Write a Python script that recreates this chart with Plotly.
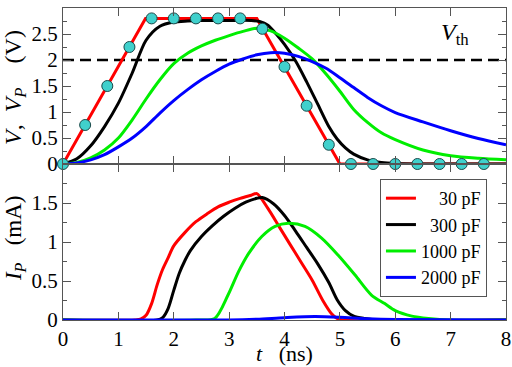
import plotly.graph_objects as go
from plotly.subplots import make_subplots

# ---- data ----
legend_labels = ["30 pF", "300 pF", "1000 pF", "2000 pF"]
colors = ["#ff0000", "#000000", "#00ee00", "#0000ff"]

# top panel: V, V_P (V)
t_v_30 = [0, 1.49, 3.5, 5.0, 8.0]
v_30 = [0, 2.8, 2.8, 0, 0]

t_v_300 = [0, 0.25, 0.5, 0.75, 1.0, 1.25, 1.5, 1.75, 2.0, 2.25, 2.5, 3.0, 3.4, 3.55, 3.7, 3.85, 4.0, 4.2, 4.4, 4.6, 4.8, 4.95, 5.1, 5.25, 5.5, 5.75, 6.0, 6.5, 8.0]
v_300 = [0, 0.1, 0.35, 0.72, 1.17, 1.75, 2.38, 2.65, 2.73, 2.75, 2.76, 2.76, 2.76, 2.74, 2.67, 2.5, 2.3, 1.98, 1.58, 1.15, 0.72, 0.48, 0.31, 0.19, 0.08, 0.03, 0.01, 0, 0]

t_v_1000 = [0, 0.25, 0.5, 0.75, 1.0, 1.25, 1.5, 1.75, 2.0, 2.25, 2.5, 2.75, 3.0, 3.25, 3.5, 3.75, 4.0, 4.25, 4.5, 4.75, 5.0, 5.25, 5.5, 5.75, 6.0, 6.5, 7.0, 7.5, 8.0]
v_1000 = [0, 0.03, 0.12, 0.27, 0.5, 0.85, 1.25, 1.62, 1.93, 2.13, 2.27, 2.38, 2.47, 2.55, 2.61, 2.56, 2.42, 2.23, 2.02, 1.73, 1.4, 1.05, 0.8, 0.6, 0.47, 0.27, 0.16, 0.11, 0.08]

t_v_2000 = [0, 0.25, 0.5, 0.75, 1.0, 1.25, 1.5, 1.75, 2.0, 2.25, 2.5, 2.75, 3.0, 3.25, 3.5, 3.75, 4.0, 4.25, 4.5, 4.75, 5.0, 5.25, 5.5, 5.75, 6.0, 6.5, 7.0, 7.5, 8.0]
v_2000 = [0, 0.02, 0.08, 0.18, 0.33, 0.5, 0.72, 0.98, 1.22, 1.43, 1.62, 1.78, 1.92, 2.02, 2.1, 2.14, 2.13, 2.07, 1.97, 1.84, 1.66, 1.47, 1.28, 1.12, 0.99, 0.81, 0.64, 0.49, 0.37]

# circles (V)
t_marks = [0, 0.4, 0.8, 1.2, 1.6, 2.0, 2.4, 2.8, 3.2, 3.6, 4.0, 4.4, 4.8, 5.2, 5.6, 6.0, 6.4, 6.8, 7.2, 7.6]
v_marks = [0, 0.75, 1.5, 2.25, 2.8, 2.8, 2.8, 2.8, 2.8, 2.6, 1.87, 1.12, 0.37, 0, 0, 0, 0, 0, 0, 0]

V_TH = 2.0

# bottom panel: I_P (mA)
t_i_30 = [0, 1.3, 1.4, 1.5, 1.6, 1.7, 1.8, 1.9, 2.0, 2.2, 2.4, 2.6, 2.8, 3.0, 3.2, 3.4, 3.5, 3.7, 3.9, 4.1, 4.3, 4.5, 4.7, 4.85, 4.95, 5.05, 8.0]
i_30 = [0, 0, 0.01, 0.06, 0.21, 0.45, 0.65, 0.8, 0.95, 1.12, 1.26, 1.36, 1.45, 1.51, 1.56, 1.6, 1.62, 1.43, 1.2, 0.97, 0.74, 0.51, 0.24, 0.08, 0.02, 0, 0]

t_i_300 = [0, 1.7, 1.8, 1.9, 2.0, 2.1, 2.2, 2.3, 2.5, 2.7, 2.9, 3.1, 3.3, 3.5, 3.6, 3.8, 4.0, 4.2, 4.4, 4.6, 4.8, 4.95, 5.1, 5.25, 5.45, 5.7, 8.0]
i_300 = [0, 0, 0.03, 0.15, 0.38, 0.6, 0.76, 0.89, 1.07, 1.21, 1.33, 1.43, 1.51, 1.56, 1.57, 1.49, 1.34, 1.14, 0.93, 0.72, 0.48, 0.26, 0.12, 0.05, 0.02, 0, 0]

t_i_1000 = [0, 2.4, 2.74, 2.98, 3.17, 3.35, 3.59, 3.83, 4.07, 4.37, 4.67, 4.97, 5.27, 5.57, 5.81, 6.0, 6.3, 6.6, 7.0, 8.0]
i_1000 = [0, 0, 0.02, 0.32, 0.62, 0.85, 1.07, 1.2, 1.24, 1.2, 1.05, 0.83, 0.58, 0.32, 0.21, 0.12, 0.05, 0.02, 0, 0]

t_i_2000 = [0, 3.0, 3.5, 4.0, 4.55, 5.0, 5.5, 6.0, 8.0]
i_2000 = [0, 0, 0.01, 0.03, 0.045, 0.035, 0.015, 0.005, 0]

x_ticks = [0, 1, 2, 3, 4, 5, 6, 7, 8]
v_ticks = [0, 0.5, 1, 1.5, 2, 2.5, 3]
v_tick_text = ["0", "0.5", "1", "1.5", "2", "2.5", "3"]
i_ticks = [0, 0.5, 1, 1.5]
i_tick_text = ["0", "0.5", "1", "1.5"]

FONT = "Liberation Serif"
NB = "\u00a0"

fig = make_subplots(rows=2, cols=1, shared_xaxes=True, vertical_spacing=0)

top_series = [(t_v_30, v_30, "linear"), (t_v_300, v_300, "spline"),
              (t_v_1000, v_1000, "spline"), (t_v_2000, v_2000, "spline")]
bot_series = [(t_i_30, i_30, "spline"), (t_i_300, i_300, "spline"),
              (t_i_1000, i_1000, "spline"), (t_i_2000, i_2000, "spline")]

# dashed threshold
fig.add_trace(go.Scatter(x=[x_ticks[0], x_ticks[-1]], y=[V_TH, V_TH], mode="lines",
                         line=dict(color="black", width=2.5, dash="11px,6px"),
                         showlegend=False, hoverinfo="skip"), row=1, col=1)

for (tx, ty, shp), c in zip(top_series, colors):
    fig.add_trace(go.Scatter(x=tx, y=ty, mode="lines",
                             line=dict(color=c, width=3, shape=shp, smoothing=0.8),
                             showlegend=False), row=1, col=1)

fig.add_trace(go.Scatter(x=t_marks, y=v_marks, mode="markers",
                         marker=dict(size=11, color="#40d0cc",
                                     line=dict(color="#1a4a4a", width=1)),
                         showlegend=False, cliponaxis=False), row=1, col=1)

pad = [NB * 4, NB * 2, "", ""]
for (tx, ty, shp), c, lab, p in zip(bot_series, colors, legend_labels, pad):
    fig.add_trace(go.Scatter(x=tx, y=ty, mode="lines", name=p + lab,
                             line=dict(color=c, width=3, shape=shp, smoothing=0.8)),
                  row=2, col=1)

axis_common = dict(showline=True, linecolor="#555555", linewidth=1, mirror="ticks",
                   ticks="inside", ticklen=8, tickcolor="#555555", tickwidth=1,
                   showgrid=False, zeroline=False, automargin=False,
                   tickfont=dict(family=FONT, size=21, color="black"))

fig.update_xaxes(range=[0, 8], tickvals=x_ticks, **axis_common)
fig.update_xaxes(showticklabels=False, row=1, col=1)
fig.update_xaxes(ticktext=[str(v) for v in x_ticks], row=2, col=1)

fig.update_yaxes(range=[0, 3], tickvals=v_ticks, ticktext=v_tick_text,
                 minor=dict(dtick=0.25, ticklen=4, ticks="inside", tickcolor="#555555"),
                 row=1, col=1, **axis_common)
fig.update_yaxes(range=[0, 2], tickvals=i_ticks, ticktext=i_tick_text,
                 minor=dict(dtick=0.25, ticklen=4, ticks="inside", tickcolor="#555555"),
                 row=2, col=1, **axis_common)

fig.update_layout(
    width=512, height=367,
    margin=dict(l=63, r=6, t=8, b=47),
    paper_bgcolor="white", plot_bgcolor="white",
    font=dict(family=FONT, size=20, color="black"),
    legend=dict(x=0.957, y=0.452, xanchor="right", yanchor="top",
                bgcolor="white", bordercolor="#555555", borderwidth=1,
                font=dict(family=FONT, size=18), tracegroupgap=0,
                itemwidth=30),
    annotations=[
        dict(text="<i>V</i><sub>th</sub>", x=7.07, y=2.5, xref="x", yref="y",
             showarrow=False, font=dict(family=FONT, size=24)),
        dict(text="<i>V</i>," + NB * 2 + "<i>V</i><sub><i>P</i></sub>" + NB * 4 + "(V)",
             x=-0.108, y=0.744, xref="paper", yref="paper", textangle=-90,
             xanchor="center", yanchor="middle",
             showarrow=False, font=dict(family=FONT, size=24)),
        dict(text="<i>I</i><sub><i>P</i></sub>" + NB * 3 + "(mA)", x=-0.108, y=0.263,
             xref="paper", yref="paper", textangle=-90, showarrow=False,
             xanchor="center", yanchor="middle",
             font=dict(family=FONT, size=23)),
        dict(text="<i>t</i>" + NB * 3 + "(ns)", x=0.499, y=-0.108, xref="paper", yref="paper",
             xanchor="center", yanchor="middle",
             showarrow=False, font=dict(family=FONT, size=22)),
    ],
)

fig.write_html("out.html", post_script="document.body.style.margin='0';",
               config={"displayModeBar": False})
